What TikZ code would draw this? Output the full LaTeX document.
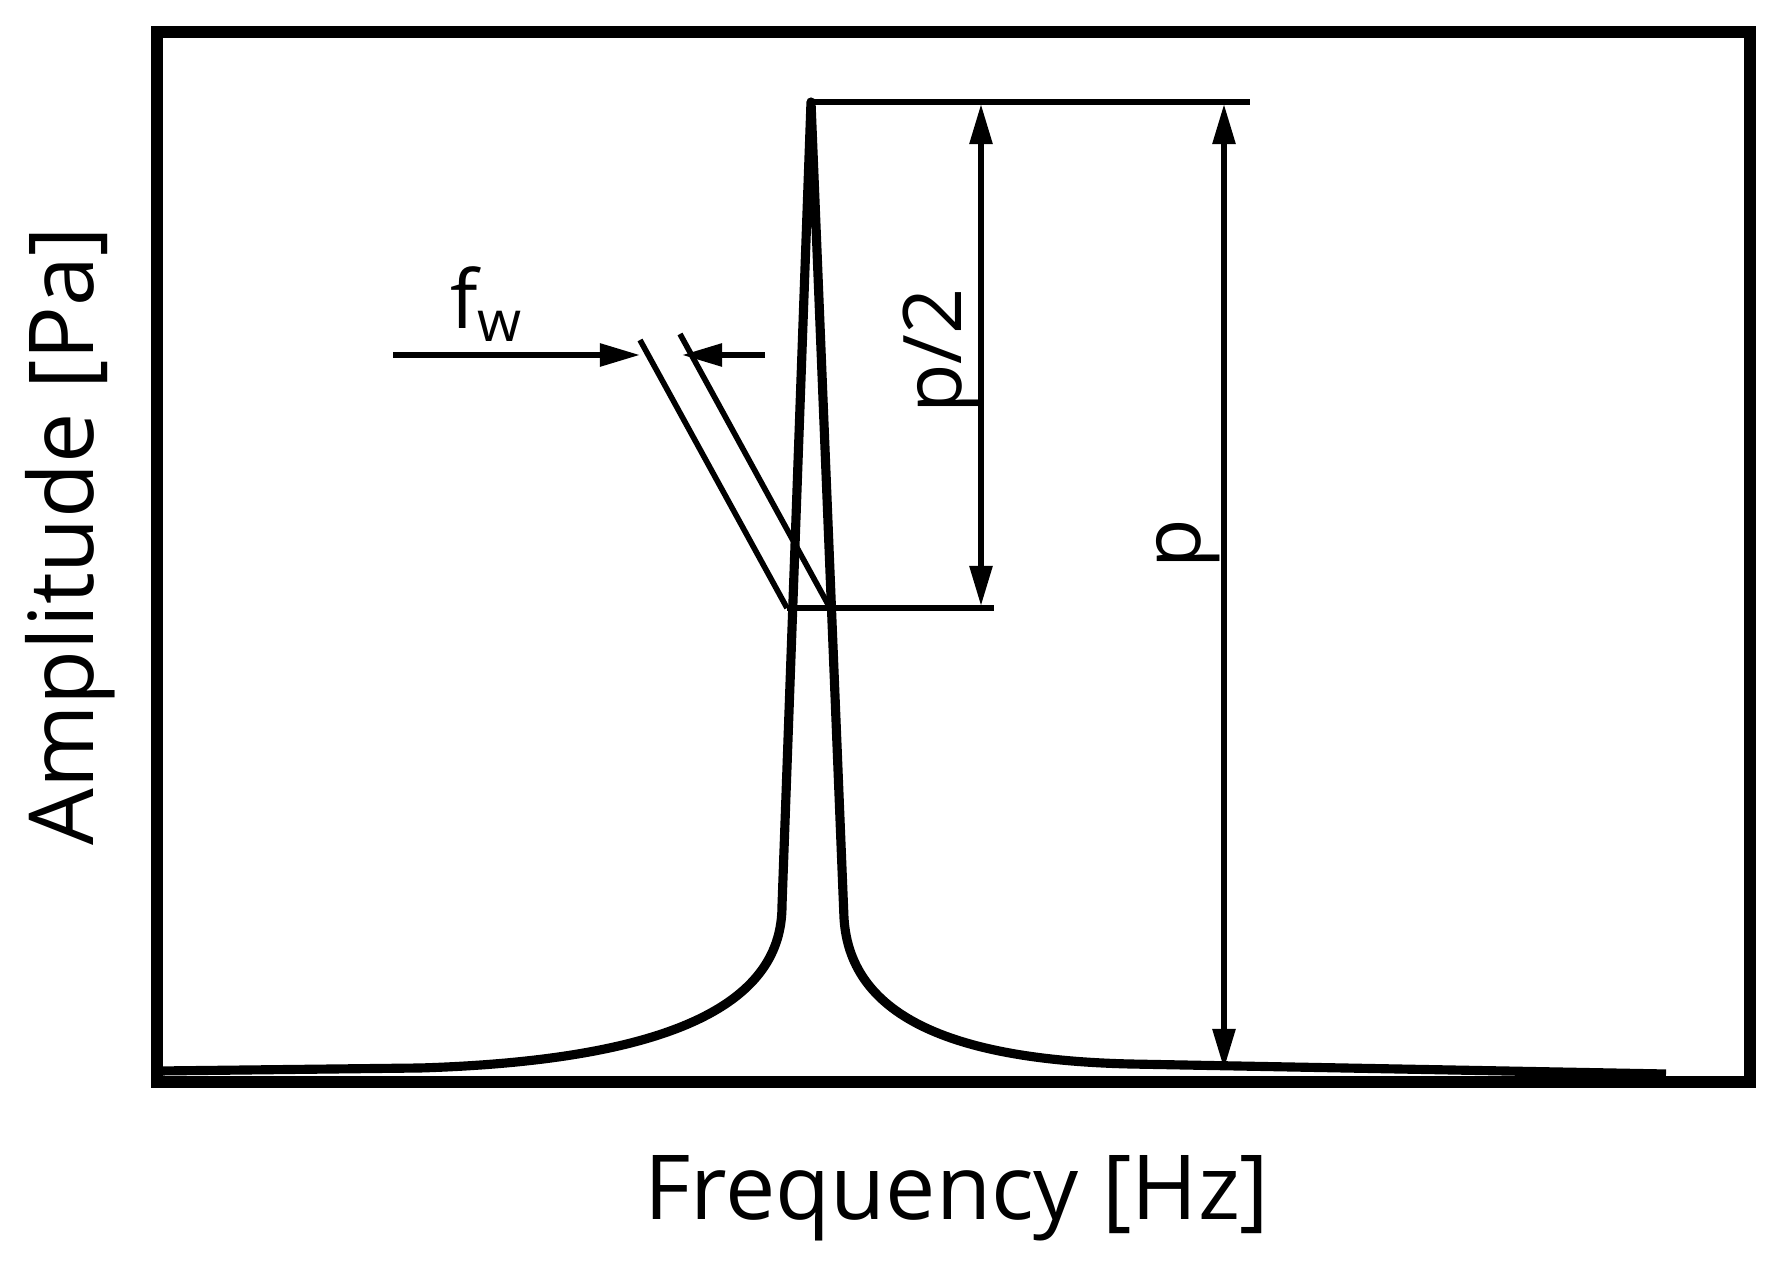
\documentclass[tikz,border=0pt]{standalone}
\usepackage{fontspec}
\setmainfont{Open Sans}
\usetikzlibrary{arrows.meta}
\begin{document}
\begin{tikzpicture}[x=0.01cm,y=-0.01cm,
  thin/.style={line width=1.6pt},
  dim/.style={line width=1.6pt,-{Triangle[length=0.4cm,width=0.22cm]}},
  lbl/.style={font=\fontsize{23}{28}\selectfont}]
\useasboundingbox (0,0) rectangle (1768,1267);
\draw[line width=3.6pt] (157,32) rectangle (1750,1082);
% curve
\draw[line width=2.6pt,line join=round] (159,1071) -- (420,1068)
  .. controls (680,1060) and (782,1000) .. (782,906)
  -- (811,102) -- (844,918)
  .. controls (850,1020) and (960,1060) .. (1130,1064) -- (1666,1074);
\coordinate (top) at (811,102);
\coordinate (tr) at (1250,102);
\draw[thin] (top) -- (tr);
\coordinate (hl) at (787,608);
\coordinate (hr) at (994,608);
\draw[thin] (hl) -- (hr);
% p/2 arrow
\coordinate (a1) at (981,355);
\draw[dim] (a1) -- (981,104);
\draw[dim] (a1) -- (981,606);
\node[lbl,rotate=90] (ph) at (942,351) {p/2};
% p arrow
\coordinate (b1) at (1224,560);
\draw[dim] (b1) -- (1224,104);
\draw[dim] (b1) -- (1224,1069);
\node[lbl,rotate=90] (p) at (1188,544) {p};
% fw
\coordinate (f1) at (640,355);
\coordinate (f2) at (682,355);
\draw[dim] (393,355) -- (f1);
\draw[dim] (765,355) -- (f2);
\draw[thin] (640,340) -- (hl);
\draw[thin] (680,334) -- (830,608);
\node[lbl] (fw) at (487,304) {f\textsubscript{w}};
\node[font=\fontsize{25.5}{30}\selectfont,rotate=90] (ya) at (70,536) {Amplitude [Pa]};
\node[font=\fontsize{25.5}{30}\selectfont] (xa) at (957,1198) {Frequency [Hz]};
\end{tikzpicture}
\end{document}
